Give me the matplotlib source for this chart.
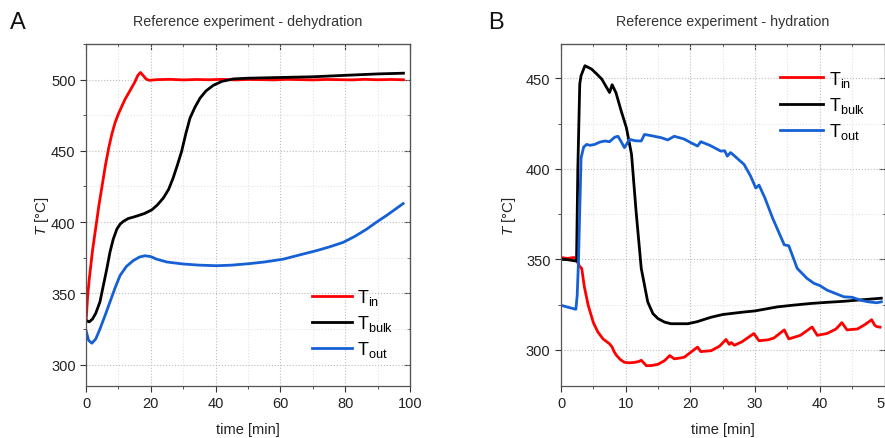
import numpy as np
import matplotlib
matplotlib.use("Agg")
import matplotlib.pyplot as plt
from matplotlib.ticker import MultipleLocator


plt.rcParams['font.family'] = ['Liberation Sans', 'DejaVu Sans']
plt.rcParams['mathtext.fontset'] = 'custom'
plt.rcParams['mathtext.rm'] = 'Liberation Sans'
plt.rcParams['mathtext.it'] = 'Liberation Sans:italic'

# ---- panel A: dehydration ----
t_in_a = [0, 0.5, 1, 2, 3, 4, 5, 6, 7, 8, 9, 10, 11, 12, 13, 14, 15, 16, 16.8, 17.6, 18.5, 19.5,
          22, 26, 30, 34, 38, 42, 46, 50, 54, 58, 62, 66, 70, 74, 78, 82, 86, 90, 94, 98]
T_in_a = [330, 348, 360, 380, 396, 412, 426, 440, 452, 462, 470, 476, 481, 486, 490, 494, 498, 503, 505, 503, 500.5, 499.5,
          500, 500.2, 499.8, 500.1, 499.9, 500.2, 499.8, 500.1, 500, 499.8, 500.2, 500, 499.8, 500.1, 500, 499.8, 500.2, 499.9, 500.1, 499.9]

t_bulk_a = [0, 1, 2, 3, 4.3, 5.3, 6.4, 7.4, 8.4, 9.5, 10.5, 11.5, 13, 14.6, 16, 18, 20.3, 22, 23.9, 25.5, 26.9,
            28.2, 29.5, 30.8, 32.1, 33.6, 35.2, 37, 39.3, 42, 45.5, 50, 60, 70, 80, 90, 98]
T_bulk_a = [331, 330, 332, 336, 344, 355, 367, 379, 388, 395, 398.5, 400.5, 402.5, 403.5, 404.5, 406, 408.6, 412, 417, 423, 431,
            440, 449.5, 462, 473, 480.5, 487, 492, 496, 498.8, 500.5, 501, 501.5, 502, 503, 504, 504.5]

t_out_a = [0, 0.8, 1.8, 3, 4.3, 5.8, 7.4, 9, 10.5, 12.5, 14.6, 16.5, 18.2, 20, 21.8, 25, 30, 35, 40.3, 45,
           50.6, 55, 60.9, 66, 71.2, 75, 79.4, 83, 86.6, 89.7, 93, 97.9]
T_out_a = [324, 317, 315, 318, 325, 334, 344, 354, 362.5, 369, 373, 375.5, 376.4, 375.8, 374, 372, 370.6, 369.8, 369.4, 369.8,
           370.9, 372, 374, 377, 380, 382.5, 385.8, 390, 395, 400, 405, 413]

# ---- panel B: hydration ----
t_in_b = [0, 1, 2, 2.4, 2.6, 2.9, 3.2, 3.6, 4.2, 5, 5.7, 6.5, 7.5, 7.9, 8.2, 8.6, 9.2, 9.8, 10.5, 11.3, 12, 12.4,
          13.2, 14, 15, 16, 16.8, 17.5, 18.5, 19.1, 20, 21.1, 21.6, 23.2, 24.5, 25.5, 26, 26.3, 26.8, 28, 29.8,
          30.6, 32, 32.9, 34.5, 35.2, 37, 38.8, 39.6, 41.1, 42.5, 43.4, 44.2, 45.8, 47, 48, 48.5, 48.8, 49.3]
T_in_b = [351, 350.5, 351, 350, 348, 346, 345, 335, 324.6, 315, 309.8, 306, 303.3, 301.5, 299, 296.8, 294.5, 293.1, 292.8, 293, 293.5, 294.2,
          291.2, 291.3, 292, 294, 296.8, 295, 295.5, 296, 298.5, 301.5, 299, 299.5, 302, 305.7, 303, 304, 302.5, 304.5, 309,
          305, 305.5, 306.5, 311, 306, 308, 312.6, 308, 309, 311.5, 315, 311, 311.5, 314, 316.6, 313.5, 312.8, 312.5]

t_bulk_b = [0, 1, 2.4, 2.6, 2.9, 3.1, 3.7, 4.7, 5.5, 6.3, 7.5, 7.9, 8.1, 8.5, 9.3, 10.1, 10.9, 11.6, 12.4, 13.4,
            14.2, 15, 16, 17, 19.6, 21, 23.2, 25, 28.3, 30, 33.4, 36, 38.6, 41, 43.7, 46, 48.8, 49.5]
T_bulk_b = [350, 349.8, 349, 400, 447, 451.5, 457, 455.2, 452.5, 449.6, 442.2, 446.5, 445, 442, 432, 422.8, 408, 376.6, 345, 326.5,
            320, 317.2, 315.3, 314.4, 314.4, 315.5, 318, 319.5, 320.9, 321.5, 323.7, 324.7, 325.6, 326.2, 326.8, 327.5, 328.3, 328.5]

t_out_b = [0, 1, 2.3, 2.5, 2.7, 3.1, 3.5, 3.95, 4.5, 5.2, 6, 6.8, 7.5, 8.3, 8.8, 9.3, 9.8, 10.6, 11.5, 12.4, 12.9,
           14, 15.5, 16.5, 17.5, 19, 20.1, 21.1, 21.6, 23, 24.7, 25.3, 25.7, 26.2, 26.7, 28.3, 29.3, 30.1, 30.6,
           31.5, 32.7, 34.5, 35.2, 36.5, 38, 39.1, 40, 41.1, 43.7, 45, 46.3, 47.5, 48.8, 49.5]
T_out_b = [324.6, 323.6, 322.4, 330, 348.7, 406, 412, 413.5, 413, 413.5, 414.8, 415.4, 415, 417.5, 418, 415, 411.7, 416.3, 415.5, 415.4, 419,
           418.3, 417.2, 416, 418, 416.5, 414.4, 412.6, 415, 413, 409.8, 410, 407, 409, 407.5, 402.4, 396, 389.4, 391,
           384, 372.8, 358, 357.5, 345, 339.5, 336.7, 335.5, 333, 329.3, 329, 327.4, 326.5, 326, 326.5]

labels = [r'T$_{\mathrm{in}}$', r'T$_{\mathrm{bulk}}$', r'T$_{\mathrm{out}}$']
colors = ['#ff0000', '#000000', '#1560d4']


def style_axes(ax, xmaj, xmin, ymaj, ymin):
    ax.xaxis.set_major_locator(MultipleLocator(xmaj))
    ax.xaxis.set_minor_locator(MultipleLocator(xmin))
    ax.yaxis.set_major_locator(MultipleLocator(ymaj))
    ax.yaxis.set_minor_locator(MultipleLocator(ymin))
    ax.grid(which='major', color='#bdbdbd', linestyle=':', linewidth=0.8)
    ax.grid(which='minor', color='#e3e3e3', linestyle=':', linewidth=0.8)
    ax.tick_params(which='major', direction='out', length=4, labelsize=10.5, colors='#333333', labelcolor='#222222')
    ax.tick_params(which='minor', direction='out', length=2.5, colors='#333333')
    for s in ax.spines.values():
        s.set_color('#555555')
        s.set_linewidth(0.9)
    # mirrored ticks pointing inward on top and right
    top = ax.secondary_xaxis('top')
    top.xaxis.set_major_locator(MultipleLocator(xmaj))
    top.xaxis.set_minor_locator(MultipleLocator(xmin))
    top.tick_params(which='major', direction='in', length=4, labeltop=False, colors='#333333')
    top.tick_params(which='minor', direction='in', length=2.5, colors='#333333')
    top.spines['top'].set_color('#555555')
    right = ax.secondary_yaxis('right')
    right.yaxis.set_major_locator(MultipleLocator(ymaj))
    right.yaxis.set_minor_locator(MultipleLocator(ymin))
    right.tick_params(which='major', direction='in', length=4, labelright=False, colors='#333333')
    right.tick_params(which='minor', direction='in', length=2.5, colors='#333333')
    right.spines['right'].set_color('#555555')
    ax.set_xlabel('time [min]', fontsize=10.5, color='#222222', labelpad=8)
    ax.set_ylabel(r'$T$ [°C]', fontsize=11, color='#222222', labelpad=0)


fig = plt.figure(figsize=(8.85, 4.39), dpi=100)
axA = fig.add_axes([0.0972, 0.1185, 0.366, 0.779])
axB = fig.add_axes([0.6339, 0.1185, 0.3656, 0.779])

for t, T, lab, c in zip([t_in_a, t_bulk_a, t_out_a], [T_in_a, T_bulk_a, T_out_a], labels, colors):
    axA.plot(t, T, color=c, lw=2.0, label=lab)
axA.set_xlim(0, 100)
axA.set_ylim(285, 525)
style_axes(axA, 20, 10, 50, 25)
axA.set_title('Reference experiment - dehydration', fontsize=10.3, color='#333333', pad=14)
axA.legend(loc='lower right', bbox_to_anchor=(1.0, 0.03), frameon=False, fontsize=13,
           handlelength=2.2, handletextpad=0.3, labelspacing=0.35)

for t, T, lab, c in zip([t_in_b, t_bulk_b, t_out_b], [T_in_b, T_bulk_b, T_out_b], labels, colors):
    axB.plot(t, T, color=c, lw=2.0, label=lab)
axB.set_xlim(0, 50)
axB.set_ylim(280, 469)
style_axes(axB, 10, 5, 50, 25)
axB.yaxis.labelpad = 6
axB.set_title('Reference experiment - hydration', fontsize=10.3, color='#333333', pad=14)
axB.legend(loc='upper right', bbox_to_anchor=(0.99, 0.975), frameon=False, fontsize=13,
           handlelength=2.4, handletextpad=0.3, labelspacing=0.35)

fig.text(0.011, 0.935, 'A', fontsize=17, color='#111111')
fig.text(0.552, 0.935, 'B', fontsize=17, color='#111111')

fig.savefig('out.png', dpi=100)
